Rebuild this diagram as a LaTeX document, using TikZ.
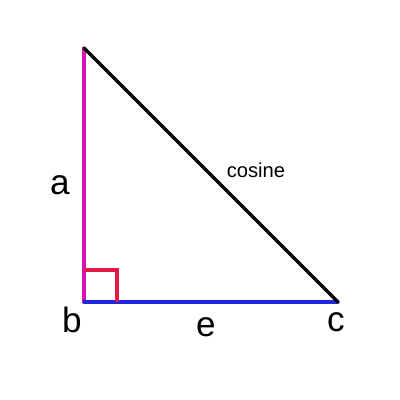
\documentclass[tikz,border=0pt]{standalone}
\usepackage{fontspec}
\setmainfont{Liberation Sans}
\usetikzlibrary{positioning}
\tikzstyle{sheet} = [x = .02cm, y = -.02cm]
\definecolor{sideA}{RGB}{214,20,180}
\definecolor{sideE}{RGB}{30,40,220}
\definecolor{cornerColor}{RGB}{225,25,70}
\tikzstyle{edgeLine} = [line width = 1.9pt, line cap = round]
\tikzstyle{vertexText} = [font=\fontsize{20}{20}\selectfont]
\tikzstyle{hypText} = [font=\fontsize{11.5}{11.5}\selectfont]
\begin{document}
\begin{tikzpicture}[sheet]
  \useasboundingbox (0,0) rectangle (400,400);
  \coordinate (a) at (84,48);
  \coordinate (b) at (84,302);
  \coordinate (c) at (338,302);
  \draw [edgeLine, color=sideA] (a) -- (b);
  \draw [edgeLine, color=sideE] (b) -- (c);
  \draw [edgeLine, color=black] (a) -- (c);
  \draw [line width = 1.9pt, color=cornerColor] (84,270) -| (117,302);
  \node [vertexText] (aLabel) at (60,185) {a};
  \node [vertexText] (bLabel) at (72,320) {b};
  \node [vertexText] (cLabel) at (336,322) {c};
  \node [vertexText] (eLabel) at (206,327) {e};
  \node [hypText] (cosLabel) at (256,170) {cosine};
\end{tikzpicture}
\end{document}
